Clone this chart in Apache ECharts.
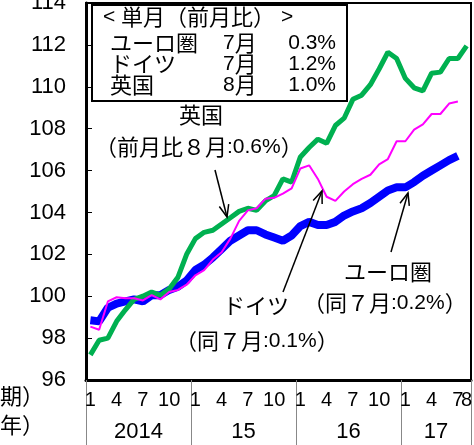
<!DOCTYPE html>
<html>
<head>
<meta charset="utf-8">
<script src="https://cdn.jsdelivr.net/npm/echarts@6/dist/echarts.min.js"></script>
<style>
  html, body { margin: 0; padding: 0; background: #fff; }
  #chart { width: 474px; height: 445px; }
</style>
</head>
<body>
<div id="chart"></div>
<script>
// month labels, Jan 2014 .. Aug 2017
var months = [
  "1","2","3","4","5","6","7","8","9","10","11","12",
  "1","2","3","4","5","6","7","8","9","10","11","12",
  "1","2","3","4","5","6","7","8","9","10","11","12",
  "1","2","3","4","5","6","7","8"
];
var yearLabels = ["2014", "15", "16", "17"];
var yearStarts = [0, 12, 24, 36, 44];

var uk = [
  97.2, 97.9, 98.0, 98.8, 99.35, 99.85, 100.0, 100.2, 100.05, 100.35, 100.9, 102.0,
  102.75, 103.05, 103.15, 103.45, 103.75, 104.05, 104.2, 104.1, 104.55, 104.8, 105.6, 105.45,
  106.65, 107.1, 107.5, 107.3, 108.15, 108.5, 109.4, 109.6, 110.1, 110.85, 111.65, 111.35,
  110.4, 109.95, 109.8, 110.65, 110.7, 111.35, 111.35, 111.95
];
var germany = [
  98.55, 98.4, 99.75, 99.95, 99.9, 99.9, 99.8, 100.05, 99.85, 100.2, 100.3, 100.55,
  101.0, 101.25, 101.75, 102.1, 102.75, 103.6, 104.1, 104.2, 104.65, 104.7, 104.9, 105.15,
  106.1, 106.25, 105.6, 104.75, 104.55, 105.0, 105.35, 105.6, 105.8, 106.3, 106.55, 107.4,
  107.4, 107.95, 108.2, 108.7, 108.7, 109.2, 109.3, null
];
var euro = [
  98.85, 98.8, 99.45, 99.65, 99.75, 99.85, 99.75, 100.05, 100.05, 100.3, 100.45, 100.75,
  101.25, 101.5, 101.85, 102.25, 102.65, 102.9, 103.15, 103.15, 102.95, 102.8, 102.65, 102.9,
  103.35, 103.55, 103.4, 103.4, 103.55, 103.85, 104.05, 104.2, 104.45, 104.75, 105.05, 105.2,
  105.2, 105.45, 105.75, 106.0, 106.25, 106.5, 106.7, null
];

var legendRows = [
  ["ユーロ圏", "7月", "0.3%"],
  ["ドイツ", "7月", "1.2%"],
  ["英国", "8月", "1.0%"]
];

var JP = "'Noto Sans CJK JP', sans-serif";
var NUM = "'Liberation Sans', Arial, sans-serif";

// ascii runs in a latin font, the rest in the CJK font
function txt(x, y, s, align, size) {
  size = size || 22;
  var rich = s.replace(/[\x20-\x7e]+/g, function (m) { return "{a|" + m + "}"; })
              .replace(/(^|\})([^{]+)(?=\{|$)/g, function (m, p, t) { return p + "{j|" + t + "}"; });
  return {
    type: "text", x: x, y: y, z: 10,
    style: {
      text: rich, fill: "#000",
      textAlign: align || "left", textVerticalAlign: "middle",
      rich: {
        a: { fontFamily: NUM, fontSize: size - 1, fill: "#000" },
        j: { fontFamily: JP, fontSize: size, fill: "#000" }
      }
    }
  };
}

function arrow(x1, y1, x2, y2) {
  var a = Math.atan2(y2 - y1, x2 - x1), L = 13, s = 0.38;
  return [
    { type: "line", z: 10, shape: { x1: x1, y1: y1, x2: x2, y2: y2 },
      style: { stroke: "#000", lineWidth: 1.5 } },
    { type: "polyline", z: 10,
      shape: { points: [
        [x2 - L * Math.cos(a - s), y2 - L * Math.sin(a - s)],
        [x2, y2],
        [x2 - L * Math.cos(a + s), y2 - L * Math.sin(a + s)]
      ] },
      style: { stroke: "#000", fill: null, lineWidth: 1.5 } }
  ];
}

var graphics = [
  { type: "rect", z: 9, shape: { x: 92, y: 5, width: 255, height: 96 },
    style: { stroke: "#000", lineWidth: 2, fill: "#fff" } },
  txt(103, 17, "< 単月（前月比） >"),
  txt(44, 396, "（月期）", "right"),
  txt(44, 425, "（年）", "right"),
  txt(201, 115, "英国", "center"),
  txt(95, 147, "（前月比８月:0.6%）"),
  txt(256, 306, "ドイツ", "center"),
  txt(175, 341, "（同７月:0.1%）"),
  txt(388, 272, "ユーロ圏", "center"),
  txt(303, 303, "（同７月:0.2%）")
];
legendRows.forEach(function (r, i) {
  var y = 43 + i * 21;
  graphics.push(txt(110, y, r[0]));
  graphics.push(txt(223, y, r[1]));
  graphics.push(txt(336, y, r[2], "right"));
});
graphics = graphics
  .concat(arrow(215, 170, 227, 217))
  .concat(arrow(283, 292, 322, 191))
  .concat(arrow(391, 252, 408, 193));

// month labels: every quarter, plus the latest month on its own axis
var last = months.length - 1;
var quarterIdx = months.map(function (m, i) { return i; })
  .filter(function (i) { return i % 3 === 0; });

function monthAxis(idx) {
  return {
    type: "value", min: 0, max: months.length, position: "bottom",
    axisLine: { show: false },
    splitLine: { show: false },
    axisTick: { show: false },
    axisLabel: {
      customValues: idx.map(function (i) { return i + 0.5; }),
      formatter: function (v) { return months[Math.round(v - 0.5)]; },
      hideOverlap: false, showMinLabel: true, showMaxLabel: true,
      color: "#000", fontSize: 20, fontFamily: NUM, margin: 10
    }
  };
}

var chart = echarts.init(document.getElementById("chart"));
chart.setOption({
  animation: false,
  backgroundColor: "#fff",
  grid: {
    left: 86, right: 3, top: 3, bottom: 65,
    outerBoundsMode: "none", containLabel: false,
    show: true, borderColor: "#000", borderWidth: 2
  },
  xAxis: [
    {
      type: "category", data: months, boundaryGap: true,
      axisLine: { lineStyle: { color: "#000", width: 3 } },
      axisTick: { show: false },
      axisLabel: { show: false }
    },
    {
      // year separators and year labels
      type: "value", min: 0, max: months.length, position: "bottom",
      axisLine: { show: false },
      splitLine: { show: false },
      axisTick: {
        customValues: yearStarts, length: 65,
        lineStyle: { color: "#888", width: 1 }
      },
      axisLabel: {
        customValues: yearStarts.slice(0, -1).map(function (s, i) {
          return (s + yearStarts[i + 1]) / 2;
        }),
        formatter: function (v) {
          for (var i = 0; i < yearLabels.length; i++) {
            if (v === (yearStarts[i] + yearStarts[i + 1]) / 2) return yearLabels[i];
          }
          return "";
        },
        color: "#000", fontSize: 22, fontFamily: NUM, margin: 41
      }
    },
    monthAxis(quarterIdx),
    monthAxis([last])
  ],
  yAxis: {
    type: "value", min: 96, max: 114, interval: 2,
    axisLine: { show: true, lineStyle: { color: "#000", width: 3 } },
    axisTick: { show: true, inside: true, length: 6, lineStyle: { color: "#000" } },
    splitLine: { show: false },
    axisLabel: { color: "#000", fontSize: 22, fontFamily: NUM, margin: 20 }
  },
  series: [
    { name: "ユーロ圏", type: "line", data: euro, showSymbol: false,
      lineStyle: { color: "#0000FF", width: 8 }, itemStyle: { color: "#0000FF" } },
    { name: "英国", type: "line", data: uk, showSymbol: false,
      lineStyle: { color: "#00B050", width: 5 }, itemStyle: { color: "#00B050" } },
    { name: "ドイツ", type: "line", data: germany, showSymbol: false,
      lineStyle: { color: "#FF00FF", width: 2 }, itemStyle: { color: "#FF00FF" } }
  ],
  graphic: graphics
});
</script>
</body>
</html>
